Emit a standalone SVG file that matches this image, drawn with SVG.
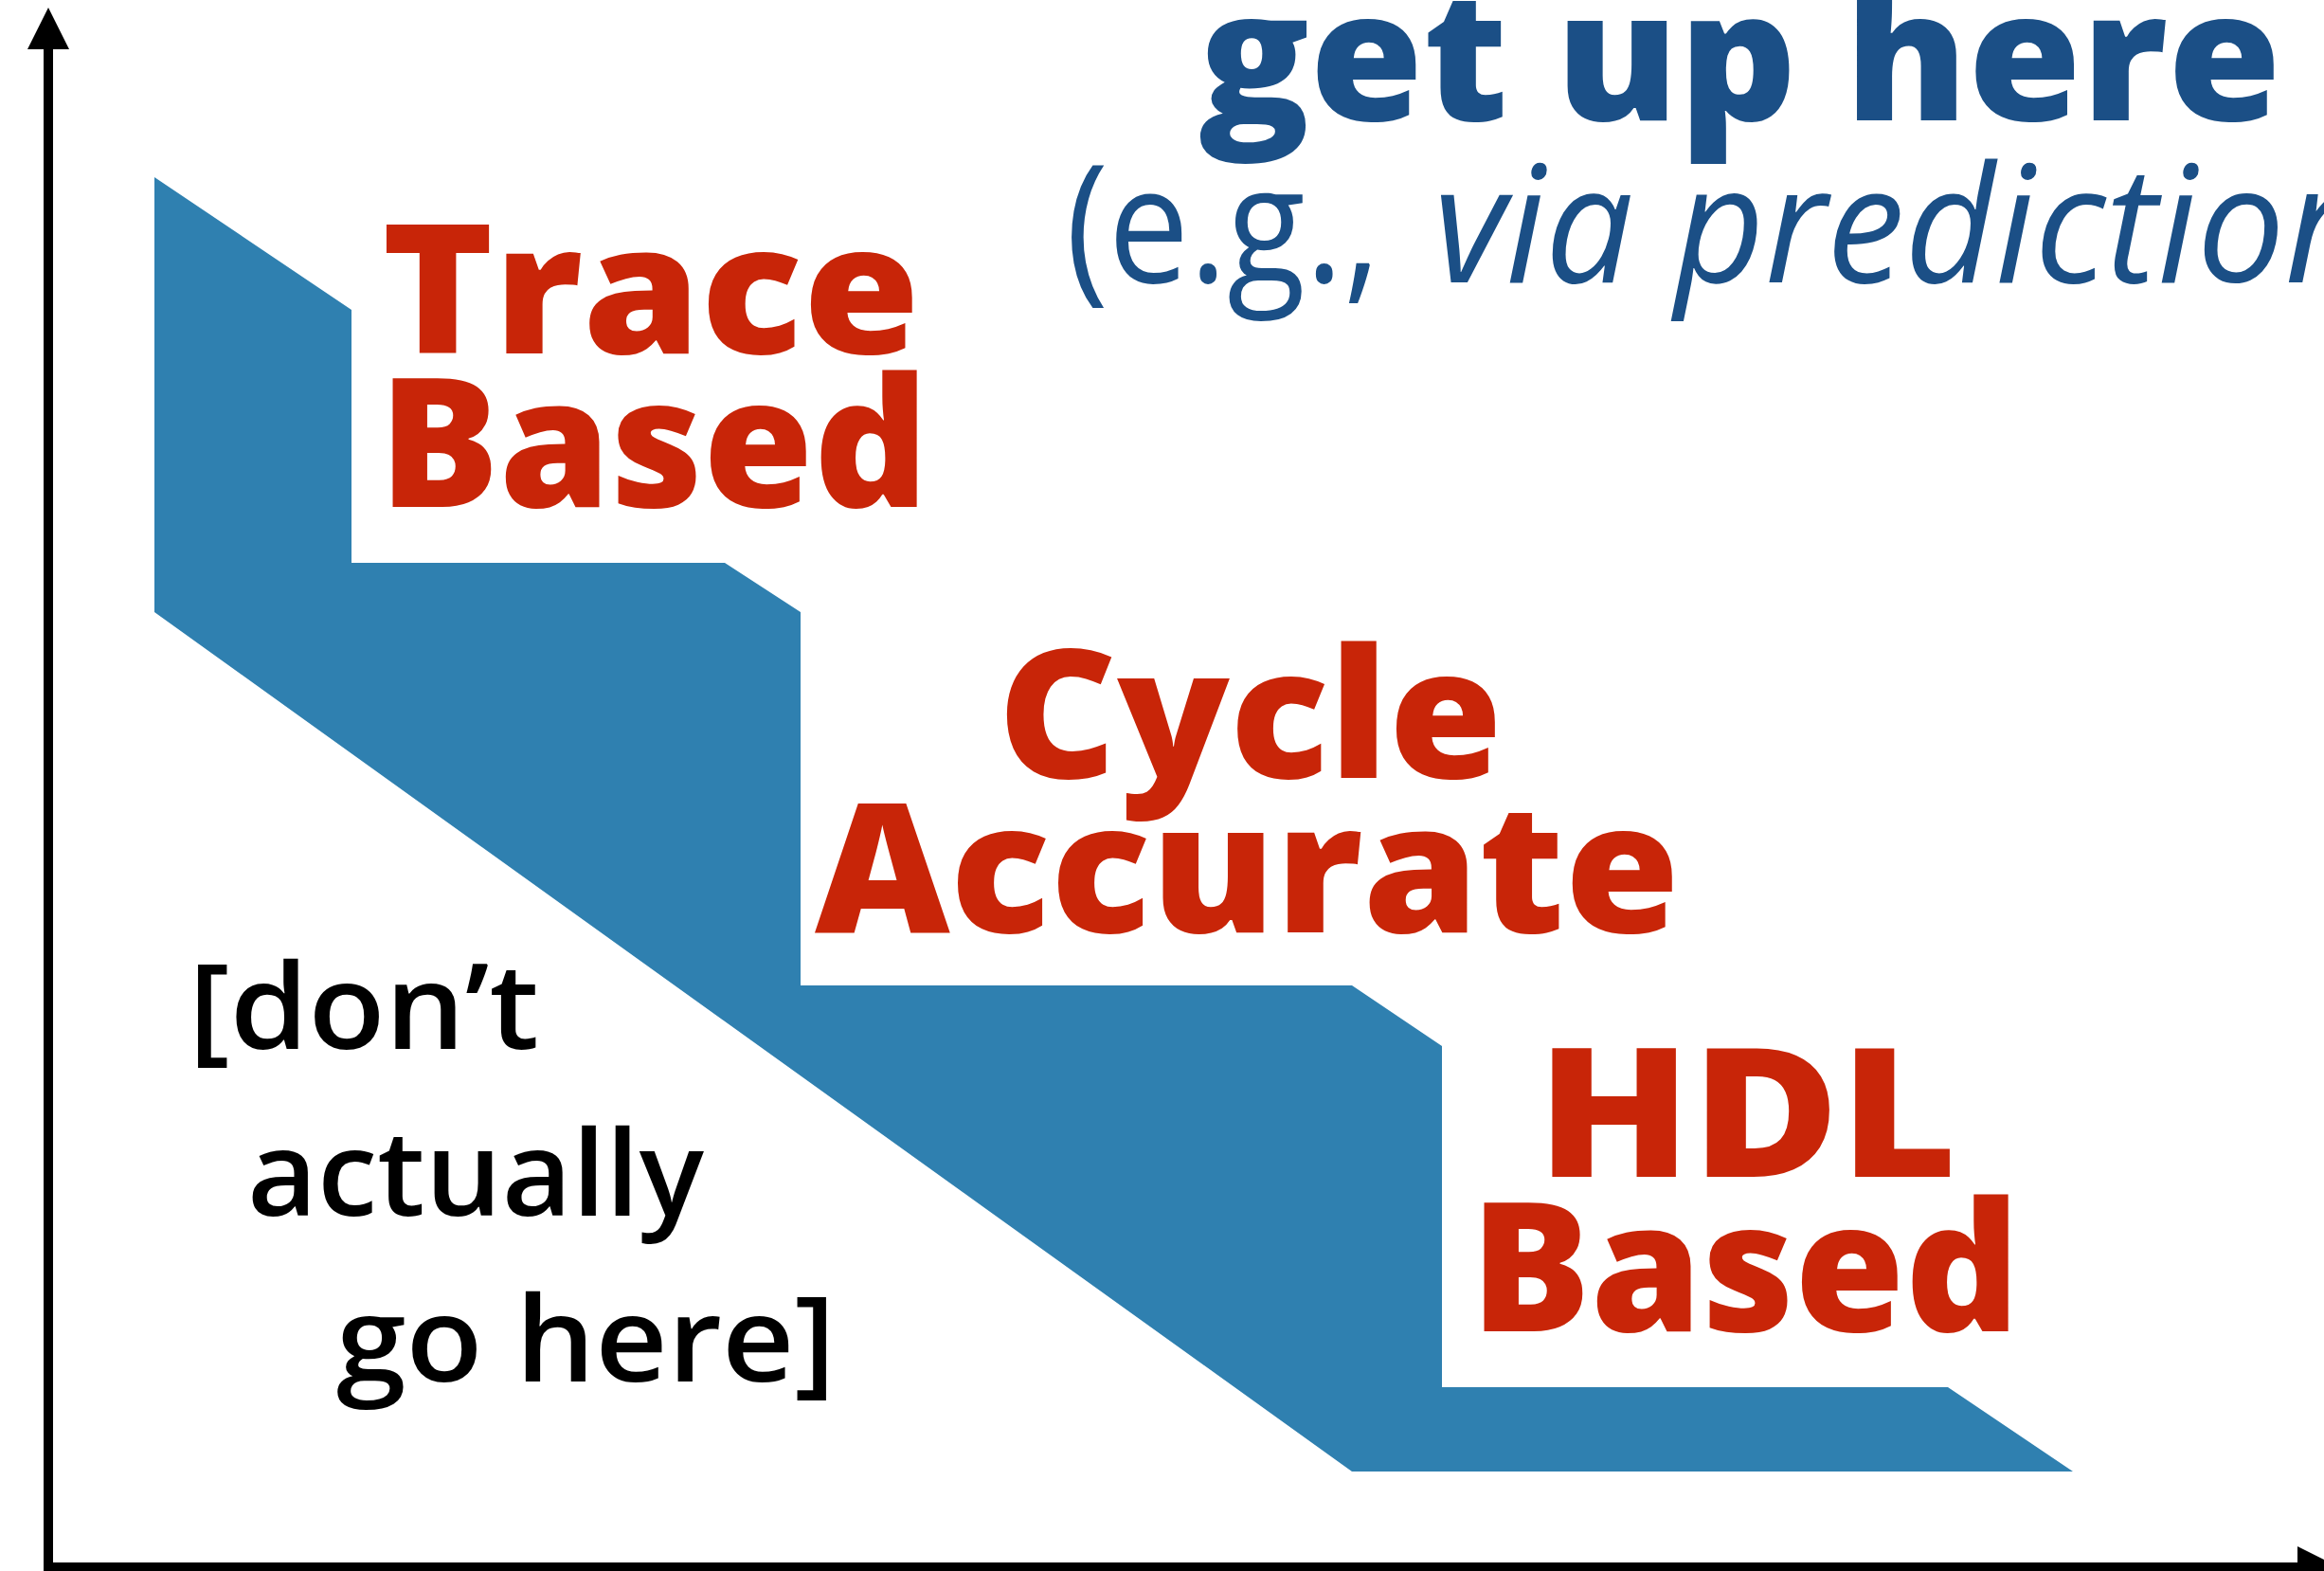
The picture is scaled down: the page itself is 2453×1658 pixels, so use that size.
<svg xmlns="http://www.w3.org/2000/svg" width="2453" height="1658" viewBox="0 0 2453 1658">
  <defs>
    <marker id="arrowhead" viewBox="0 0 44 44" markerWidth="44" markerHeight="44" refX="0" refY="22" orient="auto" markerUnits="userSpaceOnUse">
      <path d="M0,0 L44,22 L0,44 Z" fill="#000"/>
    </marker>
    <style>
      .axis { stroke: #000; stroke-width: 10; fill: none; marker-end: url(#arrowhead); }
      .step { fill: #2f80b0; }
      .tier { font-family: "Open Sans", "Liberation Sans", sans-serif; font-weight: 800; font-size: 189px; fill: #c82508; }
      .note { font-family: "Open Sans", "Liberation Sans", sans-serif; font-weight: 600; font-size: 125px; fill: #000; }
      .goal { font-family: "Open Sans", "Liberation Sans", sans-serif; font-weight: 800; font-size: 189px; fill: #1b4f86; }
      .goal-sub { font-family: "Open Sans", "Liberation Sans", sans-serif; font-weight: 400; font-size: 172px; fill: #1b4f86; }
    </style>
  </defs>

  <rect width="2453" height="1658" fill="#fff"/>

  <!-- staircase band -->
  <g id="staircase">
    <polygon class="step" points="163,187 371,327 371,594 765,594 845,646 845,1040 1427,1040 1522,1104 1522,1464 2056,1464 2188,1553 1427,1553 163,646"/>
  </g>

  <!-- axes -->
  <g id="connectors">
    <line class="axis" x1="51" y1="1659" x2="51" y2="52"/>
    <line class="axis" x1="46" y1="1654" x2="2425" y2="1654"/>
  </g>

  <g id="trace-based">
    <text class="tier" x="403" y="373" textLength="568" lengthAdjust="spacingAndGlyphs">Trace</text>
    <text class="tier" x="400" y="535" textLength="580" lengthAdjust="spacingAndGlyphs">Based</text>
  </g>

  <g id="cycle-accurate">
    <text class="tier" x="1053" y="821" textLength="533" lengthAdjust="spacingAndGlyphs">Cycle</text>
    <text class="tier" x="860" y="984" textLength="913" lengthAdjust="spacingAndGlyphs">Accurate</text>
  </g>

  <g id="hdl-based">
    <text class="tier" x="1622" y="1242" textLength="444" lengthAdjust="spacingAndGlyphs">HDL</text>
    <text class="tier" x="1552" y="1405" textLength="580" lengthAdjust="spacingAndGlyphs">Based</text>
  </g>

  <g id="dont-go-here">
    <text class="note" x="199" y="1107" textLength="370" lengthAdjust="spacingAndGlyphs">[don’t</text>
    <text class="note" x="261" y="1283" textLength="482" lengthAdjust="spacingAndGlyphs">actually</text>
    <text class="note" x="355" y="1458" textLength="527" lengthAdjust="spacingAndGlyphs">go here]</text>
  </g>

  <g id="get-up-here">
    <text class="goal" x="1265" y="127" textLength="1143" lengthAdjust="spacingAndGlyphs">get up here</text>
    <text class="goal-sub" x="1125" y="298" textLength="332" lengthAdjust="spacingAndGlyphs">(e.g.,</text>
    <text class="goal-sub" x="1513" y="298" font-style="italic" textLength="994" lengthAdjust="spacingAndGlyphs">via prediction</text>
  </g>
</svg>
